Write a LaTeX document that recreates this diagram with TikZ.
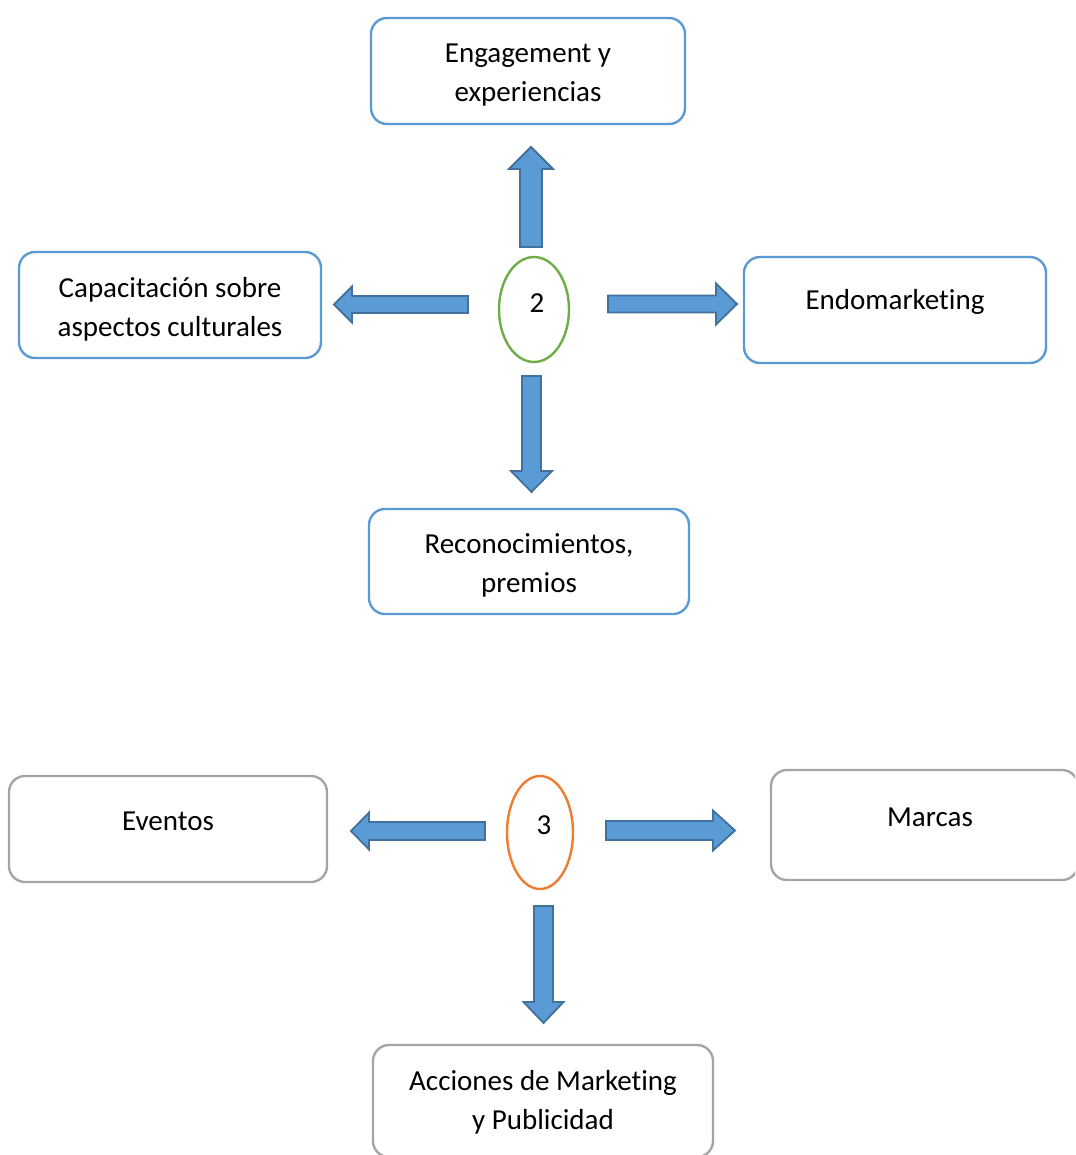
\documentclass[tikz,border=0pt]{standalone}
\usepackage{fontspec}
\setmainfont[Ligatures=NoCommon]{Carlito}
\usetikzlibrary{shapes.geometric}

\definecolor{boxblue}{HTML}{5B9BD5}
\definecolor{arrowfill}{HTML}{5B9BD5}
\definecolor{arrowline}{HTML}{41719C}
\definecolor{ringgreen}{HTML}{70AD47}
\definecolor{ringorange}{HTML}{ED7D31}
\definecolor{boxgray}{HTML}{A5A5A5}

% block arrow: #1 start coordinate, #2 direction (deg), #3 length,
% #4 shaft half width, #5 head half width, #6 head length
\newcommand\blockarr[6]{%
  \draw[blockarrow, shift={(#1)}, rotate=#2]
    (0,-#4) -- ({#3-#6},-#4) -- ({#3-#6},-#5) -- (#3,0)
    -- ({#3-#6},#5) -- ({#3-#6},#4) -- (0,#4) -- cycle;}

\tikzset{
  txt/.style={font=\fontsize{29}{39}\selectfont, align=center, inner sep=0pt},
  bluebox/.style={draw=boxblue, line width=2.4pt, rounded corners=16pt, fill=white},
  graybox/.style={draw=boxgray, line width=2.4pt, rounded corners=16pt, fill=white},
  ring/.style={ellipse, line width=2.4pt, fill=white, inner sep=0pt},
  blockarrow/.style={fill=arrowfill, draw=arrowline, line width=1.8pt, line join=miter},
}

\begin{document}
\begin{tikzpicture}[x=1pt,y=1pt]
\useasboundingbox (0,0) rectangle (1075,-1155);
\clip (0,0) rectangle (1075,-1155);

% ---- group 2 ----
\node[ring, draw=ringgreen, minimum width=70, minimum height=105] (e2) at (534,-309.5) {};
\node[txt] (n2) at (537,-303) {2};

\node[bluebox, minimum width=314, minimum height=106] (eng) at (528,-71) {};
\node[txt] (teng) at (528,-75.5) {Engagement y\\experiencias};

\node[bluebox, minimum width=302, minimum height=106] (cap) at (170,-305) {};
\node[txt] (tcap) at (170,-309) {Capacitación sobre\\aspectos culturales};

\node[bluebox, minimum width=302, minimum height=106] (endo) at (895,-310) {};
\node[txt] (tendo) at (895,-302) {Endomarketing};

\node[bluebox, minimum width=320, minimum height=105] (rec) at (529,-561.5) {};
\node[txt] (trec) at (529,-565) {Reconocimientos,\\premios};

\coordinate (s2u) at (531,-247);
\coordinate (s2l) at (468,-304.5);
\coordinate (s2r) at (608,-304);
\coordinate (s2d) at (531.5,-376);
\blockarr{s2u}{90}{100}{11}{22}{22}
\blockarr{s2l}{180}{134}{8.5}{18}{18}
\blockarr{s2r}{0}{129}{8.5}{20.5}{21}
\blockarr{s2d}{270}{116}{9.5}{20.5}{21}

% ---- group 3 ----
\node[ring, draw=ringorange, minimum width=66, minimum height=113] (e3) at (540,-832.5) {};
\node[txt] (n3) at (544,-825) {3};

\node[graybox, minimum width=318, minimum height=106] (evt) at (168,-829) {};
\node[txt] (tevt) at (168,-821.5) {Eventos};

\node[graybox, minimum width=307, minimum height=110] (mar) at (924.5,-825) {};
\node[txt] (tmar) at (930,-817.5) {Marcas};

\node[graybox, minimum width=340, minimum height=112] (acc) at (543,-1101) {};
\node[txt] (tacc) at (543,-1102) {Acciones de Marketing\\y Publicidad};

\coordinate (s3l) at (485,-831);
\coordinate (s3r) at (606,-830.5);
\coordinate (s3d) at (543.5,-906);
\blockarr{s3l}{180}{134}{9}{18.5}{18}
\blockarr{s3r}{0}{129}{9.5}{20}{22}
\blockarr{s3d}{270}{117}{9.5}{20}{21}
\end{tikzpicture}
\end{document}
